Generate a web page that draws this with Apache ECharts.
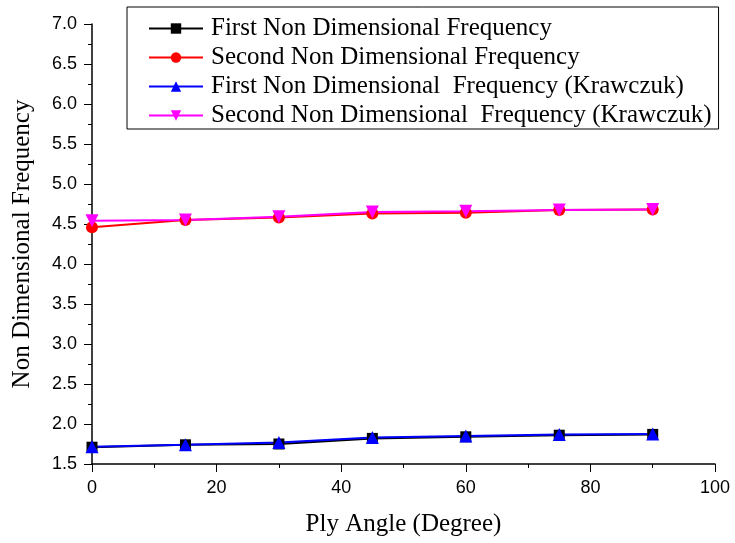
<!DOCTYPE html>
<html>
<head>
<meta charset="utf-8">
<script src="https://cdn.jsdelivr.net/npm/echarts@6/dist/echarts.min.js"></script>
<style>
  html, body { margin: 0; padding: 0; background: #fff; }
  #chart { width: 735px; height: 543px; }
</style>
</head>
<body>
<div id="chart"></div>
<script>
// ply angles (degree)
var angles = [0, 15, 30, 45, 60, 75, 90];
// non dimensional frequencies
var firstFreq = [1.71, 1.74, 1.75, 1.82, 1.84, 1.86, 1.87];
var secondFreq = [4.46, 4.55, 4.58, 4.63, 4.64, 4.675, 4.68];
var firstKraw = [1.715, 1.74, 1.77, 1.83, 1.85, 1.87, 1.875];
var secondKraw = [4.54, 4.55, 4.59, 4.65, 4.66, 4.675, 4.68];
var seriesNames = [
  'First Non Dimensional Frequency',
  'Second Non Dimensional Frequency',
  'First Non Dimensional  Frequency (Krawczuk)',
  'Second Non Dimensional  Frequency (Krawczuk)'
];

function pairs(ys) {
  return angles.map(function (x, i) { return [x, ys[i]]; });
}

var chart = echarts.init(document.getElementById('chart'));
var serif = '"Liberation Serif", "Times New Roman", serif';
var sans = '"Liberation Sans", Arial, sans-serif';

function mkSeries(name, data, color, symbol, size) {
  return {
    name: name,
    type: 'line',
    data: pairs(data),
    symbol: symbol,
    symbolSize: size,
    showSymbol: true,
    lineStyle: { color: color, width: 2 },
    itemStyle: { color: color },
    animation: false
  };
}

var option = {
  backgroundColor: '#fff',
  grid: { left: 92, right: 20, top: 24, bottom: 79 },
  legend: {
    orient: 'vertical',
    left: 127,
    top: 7,
    padding: [9, 7, 1, 21],
    itemGap: 4,
    itemWidth: 54,
    itemHeight: 13,
    borderColor: '#000',
    borderWidth: 1,
    borderRadius: 0,
    textStyle: { fontFamily: serif, fontSize: 25, color: '#000', padding: [0, 0, 0, 3] },
    data: seriesNames
  },
  xAxis: {
    type: 'value',
    min: 0,
    max: 100,
    interval: 20,
    name: 'Ply Angle (Degree)',
    nameLocation: 'middle',
    nameGap: 48,
    nameTextStyle: { fontFamily: serif, fontSize: 25, color: '#000' },
    axisLine: { lineStyle: { color: '#000', width: 1.5 } },
    axisTick: { show: true, length: 8, lineStyle: { color: '#000' } },
    minorTick: { show: true, splitNumber: 2, length: 4, lineStyle: { color: '#000' } },
    axisLabel: { fontFamily: sans, fontSize: 18, color: '#000', margin: 15 },
    splitLine: { show: false }
  },
  yAxis: {
    type: 'value',
    min: 1.5,
    max: 7.0,
    interval: 0.5,
    name: 'Non Dimensional Frequency',
    nameLocation: 'middle',
    nameGap: 57,
    nameTextStyle: { fontFamily: serif, fontSize: 25, color: '#000' },
    axisLine: { show: true, lineStyle: { color: '#000', width: 1.5 } },
    axisTick: { show: true, length: 8, lineStyle: { color: '#000' } },
    minorTick: { show: true, splitNumber: 2, length: 4, lineStyle: { color: '#000' } },
    axisLabel: {
      fontFamily: sans, fontSize: 18, color: '#000', margin: 15,
      formatter: function (v) { return v.toFixed(1); }
    },
    splitLine: { show: false }
  },
  series: [
    mkSeries(seriesNames[0], firstFreq, '#000000', 'rect', 11),
    mkSeries(seriesNames[1], secondFreq, '#ff0000', 'circle', 12),
    mkSeries(seriesNames[2], firstKraw, '#0000ff', 'triangle', 13),
    mkSeries(seriesNames[3], secondKraw, '#ff00ff', 'path://M0,0 L10,0 L5,9 Z', 13)
  ]
};
chart.setOption(option);
</script>
</body>
</html>
